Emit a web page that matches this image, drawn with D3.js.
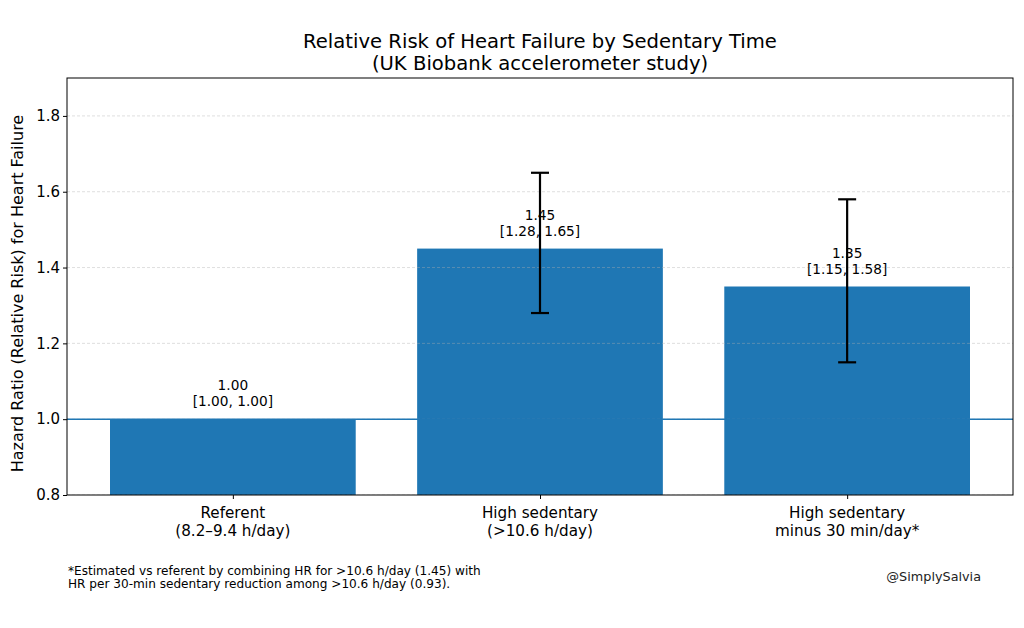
<!DOCTYPE html>
<html>
<head>
<meta charset="utf-8">
<script src="https://cdn.jsdelivr.net/npm/d3@7"></script>
<style>
  body { margin: 0; background: #fff; }
  text { font-family: "DejaVu Sans", sans-serif; }
</style>
</head>
<body>
<div id="chart"></div>
<script>
// data
const categories = ["Referent\n(8.2\u20139.4 h/day)", "High sedentary\n(>10.6 h/day)", "High sedentary\nminus 30 min/day*"];
const hr = [1.00, 1.45, 1.35];
const ciLow = [1.00, 1.28, 1.15];
const ciHigh = [1.00, 1.65, 1.58];
const yTicks = [0.8, 1.0, 1.2, 1.4, 1.6, 1.8];

const width = 1024, height = 628;
const margin = { top: 78, right: 11, bottom: 133, left: 67 };
const innerW = width - margin.left - margin.right;
const innerH = height - margin.top - margin.bottom;

const svg = d3.select("#chart").append("svg")
  .attr("width", width)
  .attr("height", height);

const chart = svg.append("g")
  .attr("transform", `translate(${margin.left},${margin.top})`);

const BLUE = "#1f77b4";

// scales (matplotlib-like: bar width 0.8, 5% margins)
const x = d3.scaleLinear().domain([-0.54, 2.54]).range([0, innerW]);
const y = d3.scaleLinear().domain([0.8, 1.9]).range([innerH, 0]);
const barW = x(0.8) - x(0);

chart.append("clipPath").attr("id", "clip")
  .append("rect").attr("width", innerW).attr("height", innerH);

const plot = chart.append("g").attr("clip-path", "url(#clip)");

// bars
plot.selectAll("rect.bar")
  .data(hr)
  .enter()
  .append("rect")
  .attr("class", "bar")
  .attr("x", (d, i) => x(i) - barW / 2)
  .attr("width", barW)
  .attr("y", d => y(d))
  .attr("height", d => innerH - y(d) + 5)
  .attr("fill", BLUE);

// grid
plot.selectAll("line.grid")
  .data(yTicks)
  .enter()
  .append("line")
  .attr("x1", 0).attr("x2", innerW)
  .attr("y1", d => y(d)).attr("y2", d => y(d))
  .attr("stroke", "#b0b0b0")
  .attr("stroke-opacity", 0.5)
  .attr("stroke-width", 0.8)
  .attr("stroke-dasharray", "3,2");

// reference line at 1
plot.append("line")
  .attr("x1", 0).attr("x2", innerW)
  .attr("y1", y(1)).attr("y2", y(1))
  .attr("stroke", BLUE)
  .attr("stroke-width", 1.5);

// error bars
hr.forEach((d, i) => {
  if (ciLow[i] === ciHigh[i]) return;
  const cx = x(i);
  const g = plot.append("g").attr("stroke", "#000").attr("stroke-width", 2.2);
  g.append("line").attr("x1", cx).attr("x2", cx)
    .attr("y1", y(ciLow[i])).attr("y2", y(ciHigh[i]));
  [ciLow[i], ciHigh[i]].forEach(v => {
    g.append("line").attr("x1", cx - 9).attr("x2", cx + 9)
      .attr("y1", y(v)).attr("y2", y(v));
  });
});

// value labels
hr.forEach((d, i) => {
  const t = chart.append("text")
    .attr("text-anchor", "middle")
    .attr("font-size", "13.7px")
    .attr("fill", "#000");
  t.append("tspan").attr("x", x(i)).attr("y", y(d) - 29).text(d.toFixed(2));
  t.append("tspan").attr("x", x(i)).attr("y", y(d) - 13)
    .text(`[${ciLow[i].toFixed(2)}, ${ciHigh[i].toFixed(2)}]`);
});

// axes
const yAxis = chart.append("g")
  .call(d3.axisLeft(y).tickValues(yTicks).tickFormat(d3.format(".1f")).tickSize(4));
yAxis.select(".domain").remove();
yAxis.selectAll("text").style("font-size", "15px").attr("fill", "#000")
  .attr("font-family", "DejaVu Sans");

const xAxis = chart.append("g")
  .attr("transform", `translate(0,${innerH})`)
  .call(d3.axisBottom(x).tickValues([0, 1, 2]).tickFormat("").tickSize(4));
xAxis.select(".domain").remove();

categories.forEach((c, i) => {
  const t = chart.append("text")
    .attr("text-anchor", "middle")
    .attr("font-size", "15.2px")
    .attr("fill", "#000");
  c.split("\n").forEach((line, k) => {
    t.append("tspan").attr("x", x(i)).attr("y", innerH + 23 + k * 18).text(line);
  });
});

// frame
chart.append("rect")
  .attr("width", innerW).attr("height", innerH)
  .attr("fill", "none").attr("stroke", "#000").attr("stroke-width", 1);

// y label
svg.append("text")
  .attr("transform", `translate(23,${margin.top + innerH / 2 + 7}) rotate(-90)`)
  .attr("text-anchor", "middle")
  .attr("font-size", "16px")
  .text("Hazard Ratio (Relative Risk) for Heart Failure");

// title
const title = svg.append("text")
  .attr("text-anchor", "middle")
  .attr("font-size", "19.6px");
title.append("tspan").attr("x", margin.left + innerW / 2).attr("y", 48)
  .text("Relative Risk of Heart Failure by Sedentary Time");
title.append("tspan").attr("x", margin.left + innerW / 2).attr("y", 70)
  .text("(UK Biobank accelerometer study)");

// footnote
const foot = svg.append("text").attr("font-size", "12.1px");
foot.append("tspan").attr("x", 68).attr("y", 575)
  .text("*Estimated vs referent by combining HR for >10.6 h/day (1.45) with");
foot.append("tspan").attr("x", 68).attr("y", 588)
  .text("HR per 30-min sedentary reduction among >10.6 h/day (0.93).");

svg.append("text")
  .attr("x", 981).attr("y", 581)
  .attr("text-anchor", "end")
  .attr("font-size", "12.8px")
  .attr("fill", "#222")
  .text("@SimplySalvia");
</script>
</body>
</html>
